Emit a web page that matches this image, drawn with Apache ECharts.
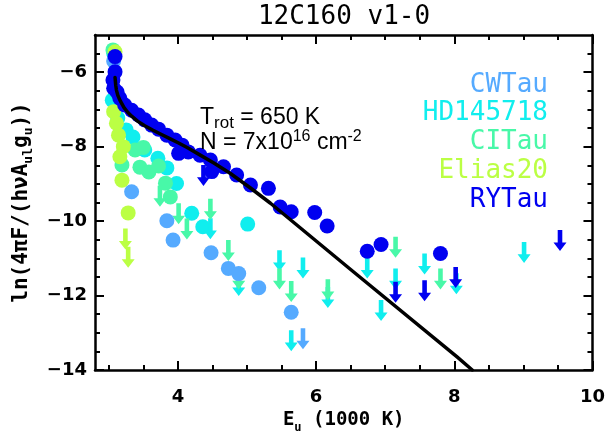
<!DOCTYPE html>
<html>
<head>
<meta charset="utf-8">
<script src="https://cdn.jsdelivr.net/npm/echarts@6/dist/echarts.min.js"></script>
<style>
html,body{margin:0;padding:0;background:#fff;}
#chart{width:608px;height:440px;}
</style>
</head>
<body>
<div id="chart"></div>
<script>
// ---------- data (E_u in 1000 K, ln(4piF/(hv A_ul g_u))) ----------
const sourceNames = ['CWTau', 'HD145718', 'CITau', 'Elias20', 'RYTau'];
const sourceColors = ['#55AAFF', '#10EEEE', '#48F8A8', '#BBFF44', '#0000F0'];

const cwtauDet = [[3.07,-5.70],[3.33,-9.21],[3.84,-9.99],[3.93,-10.51],[4.48,-10.85],[4.73,-11.27],[4.88,-11.41],[5.17,-11.79],[5.64,-12.45]];
const cwtauLim = [[5.81,-12.88]];

const hd145718Det = [[3.07,-5.49],[3.05,-6.75],[3.13,-7.23],[3.25,-7.55],[3.35,-7.74],[3.52,-8.09],[3.71,-8.31],[3.84,-8.57],[3.98,-8.99],[4.20,-9.79],[4.36,-10.15],[5.01,-10.08]];
const hd145718Lim = [[4.47,-9.92],[4.88,-11.45],[5.47,-10.78],[5.64,-12.93],[5.81,-10.98],[6.17,-11.77],[6.74,-10.98],[6.94,-12.12],[7.15,-11.27],[7.57,-10.87],[8.03,-11.40],[9.01,-10.56]];

const citauDet = [[3.06,-5.40],[3.19,-8.49],[3.38,-8.09],[3.50,-8.02],[3.45,-8.55],[3.58,-8.68],[3.72,-8.52],[3.82,-8.98],[3.89,-9.35]];
const citauLim = [[3.74,-9.05],[4.01,-9.52],[4.13,-9.93],[4.47,-9.40],[4.73,-10.51],[4.88,-11.27],[5.47,-11.27],[5.64,-11.61],[6.17,-11.56],[7.15,-10.42],[7.80,-11.27]];

const elias20Det = [[3.09,-5.45],[3.07,-7.06],[3.11,-7.37],[3.14,-7.69],[3.21,-8.00],[3.16,-8.27],[3.19,-8.90],[3.28,-9.78]];
const elias20Lim = [[3.24,-10.20],[3.28,-10.69]];

const rytauDet = [[3.09,-5.58],[3.09,-5.99],[3.06,-6.21],[3.07,-6.43],[3.12,-6.53],[3.16,-6.70],[3.23,-6.88],[3.33,-7.02],[3.43,-7.15],[3.52,-7.28],[3.62,-7.42],[3.72,-7.53],[3.84,-7.69],[3.96,-7.82],[4.06,-7.96],[4.01,-8.18],[4.15,-8.14],[4.32,-8.23],[4.47,-8.36],[4.49,-8.67],[4.66,-8.54],[4.85,-8.76],[5.05,-9.03],[5.31,-9.12],[5.48,-9.62],[5.64,-9.75],[5.98,-9.77],[6.16,-10.13],[6.74,-10.81],[6.94,-10.63],[7.80,-10.87]];
const rytauLim = [[4.37,-8.49],[7.15,-11.63],[7.57,-11.59],[8.02,-11.23],[9.53,-10.24]];

// rotational-diagram model curve (T_rot = 650 K)
const modelCurve = [[3.09,-6.14],[3.10,-6.35],[3.11,-6.48],[3.13,-6.62],[3.16,-6.75],[3.22,-6.95],[3.27,-7.07],[3.33,-7.18],[3.42,-7.32],[3.52,-7.44],[3.64,-7.56],[3.77,-7.68],[3.89,-7.79],[4.01,-7.90],[4.14,-8.03],[4.28,-8.18],[4.52,-8.44],[4.76,-8.72],[5.05,-9.11],[5.34,-9.52],[6.50,-11.30],[8.04,-13.65],[8.26,-14.00]];

const xMajorTicks = [4, 6, 8, 10];
const xMinorTicks = [3, 3.5, 4.5, 5, 5.5, 6.5, 7, 7.5, 8.5, 9, 9.5];
const yMajorTicks = [-14, -12, -10, -8, -6];
const yMinorTicks = [-13.5, -13, -12.5, -11.5, -11, -10.5, -9.5, -9, -8.5, -7.5, -7, -6.5, -5.5];

const titleText = '12C160 v1-0';
const annotTrot = '650 K';
const annotN = ['7x10', '16', 'cm', '-2'];

// ---------- chart ----------
const X_MIN = 2.8, X_MAX = 10, Y_MIN = -14, Y_MAX = -5;
const ARROW = 'path://M4.2,0H8.8V13H13L6.5,22L0,13H4.2Z';
const tickFont = {fontFamily: 'DejaVu Sans', fontWeight: 'bold', fontSize: 18, color: '#000'};
const nameFont = 'DejaVu Sans Mono';

function buildData(det, lim) {
  return det.map(p => ({value: p}))
    .concat(lim.map(p => ({value: p, symbol: ARROW, symbolSize: [13, 21], symbolOffset: [0, 10.5]})));
}

function xAxisDef(position, ticks, len, showLine, showLabel, extra) {
  return Object.assign({
    type: 'value', position: position, min: X_MIN, max: X_MAX,
    axisLine: {show: showLine, onZero: false, lineStyle: {color: '#000', width: 2.5}},
    axisTick: {show: true, inside: true, length: len, customValues: ticks, lineStyle: {color: '#000', width: 2}},
    axisLabel: showLabel ? Object.assign({show: true, customValues: ticks, margin: 18,
      formatter: v => String(v)}, tickFont) : {show: false},
    splitLine: {show: false}, minorTick: {show: false}
  }, extra || {});
}
function yAxisDef(position, ticks, len, showLine, showLabel, extra) {
  return Object.assign({
    type: 'value', position: position, min: Y_MIN, max: Y_MAX,
    axisLine: {show: showLine, onZero: false, lineStyle: {color: '#000', width: 2.5}},
    axisTick: {show: true, inside: true, length: len, customValues: ticks, lineStyle: {color: '#000', width: 2}},
    axisLabel: showLabel ? Object.assign({show: true, customValues: ticks, margin: 8,
      formatter: v => String(v).replace('-', '\u2212')}, tickFont) : {show: false},
    splitLine: {show: false}, minorTick: {show: false}
  }, extra || {});
}

const detSets = [cwtauDet, hd145718Det, citauDet, elias20Det, rytauDet];
const limSets = [cwtauLim, hd145718Lim, citauLim, elias20Lim, rytauLim];
const drawOrder = [1, 2, 0, 3, 4];

const series = drawOrder.map((i, k) => ({
  name: sourceNames[i], type: 'scatter', xAxisIndex: 0, yAxisIndex: 0,
  symbol: 'circle', symbolSize: 15, z: 2 + k,
  itemStyle: {color: sourceColors[i], opacity: 1},
  data: buildData(detSets[i], limSets[i]), clip: true
}));
series.push({
  type: 'line', xAxisIndex: 0, yAxisIndex: 0, data: modelCurve, smooth: false,
  showSymbol: false, z: 10, lineStyle: {color: '#000', width: 3.5, join: 'round', cap: 'round'}, clip: true
});

const legendTexts = sourceNames.map((n, i) => ({
  type: 'text', x: 548, y: 85 + i * 28.7, z: 20,
  style: {text: n, fill: sourceColors[i], font: '26px "DejaVu Sans Mono"', align: 'right', verticalAlign: 'middle'}
}));

const annotRich = {
  a: {fontFamily: 'Liberation Sans', fontSize: 23, lineHeight: 28, fill: '#000'},
  b: {fontFamily: 'Liberation Sans', fontSize: 17, lineHeight: 20, verticalAlign: 'bottom', fill: '#000'},
  p: {fontFamily: 'Liberation Sans', fontSize: 16, lineHeight: 22, verticalAlign: 'top', fill: '#000'}
};

const option = {
  animation: false,
  backgroundColor: '#fff',
  grid: {left: 95, right: 15, top: 35, bottom: 70, containLabel: false},
  xAxis: [
    xAxisDef('bottom', xMajorTicks, 9, true, true, {
      name: '{n|E}{s|u}{n| (1000 K)}', nameLocation: 'middle', nameGap: 34,
      nameTextStyle: {rich: {
        n: {fontFamily: nameFont, fontWeight: 'bold', fontSize: 19, lineHeight: 26, color: '#000'},
        s: {fontFamily: nameFont, fontWeight: 'bold', fontSize: 12, lineHeight: 14, verticalAlign: 'bottom', color: '#000'}
      }}
    }),
    xAxisDef('top', xMajorTicks, 9, true, false),
    xAxisDef('bottom', xMinorTicks, 5, false, false),
    xAxisDef('top', xMinorTicks, 5, false, false)
  ],
  yAxis: [
    yAxisDef('left', yMajorTicks, 9, true, true, {
      name: '{n|ln(4\u03c0F/(h\u03bdA}{s|ul}{n|g}{s|u}{n|))}', nameLocation: 'middle', nameGap: 60, nameRotate: 90,
      nameTextStyle: {rich: {
        n: {fontFamily: nameFont, fontWeight: 'bold', fontSize: 21, lineHeight: 26, color: '#000'},
        s: {fontFamily: nameFont, fontWeight: 'bold', fontSize: 13, lineHeight: 14, verticalAlign: 'bottom', color: '#000'}
      }}
    }),
    yAxisDef('right', yMajorTicks, 9, true, false),
    yAxisDef('left', yMinorTicks, 5, false, false),
    yAxisDef('right', yMinorTicks, 5, false, false)
  ],
  graphic: [
    {type: 'text', x: 344, y: 17, z: 20,
     style: {text: titleText, fill: '#000', font: '26px "DejaVu Sans Mono"', align: 'center', verticalAlign: 'middle'}},
    {type: 'text', x: 200, y: 118, z: 20,
     style: {text: '{a|T}{b|rot}{a| = ' + annotTrot + '}', rich: annotRich, verticalAlign: 'middle', align: 'left'}},
    {type: 'text', x: 200, y: 143, z: 20,
     style: {text: '{a|N = ' + annotN[0] + '}{p|' + annotN[1] + '}{a| ' + annotN[2] + '}{p|' + annotN[3] + '}', rich: annotRich, verticalAlign: 'middle', align: 'left'}}
  ].concat(legendTexts),
  series: series
};

const chart = echarts.init(document.getElementById('chart'), null, {renderer: 'canvas'});
chart.setOption(option);
</script>
</body>
</html>
